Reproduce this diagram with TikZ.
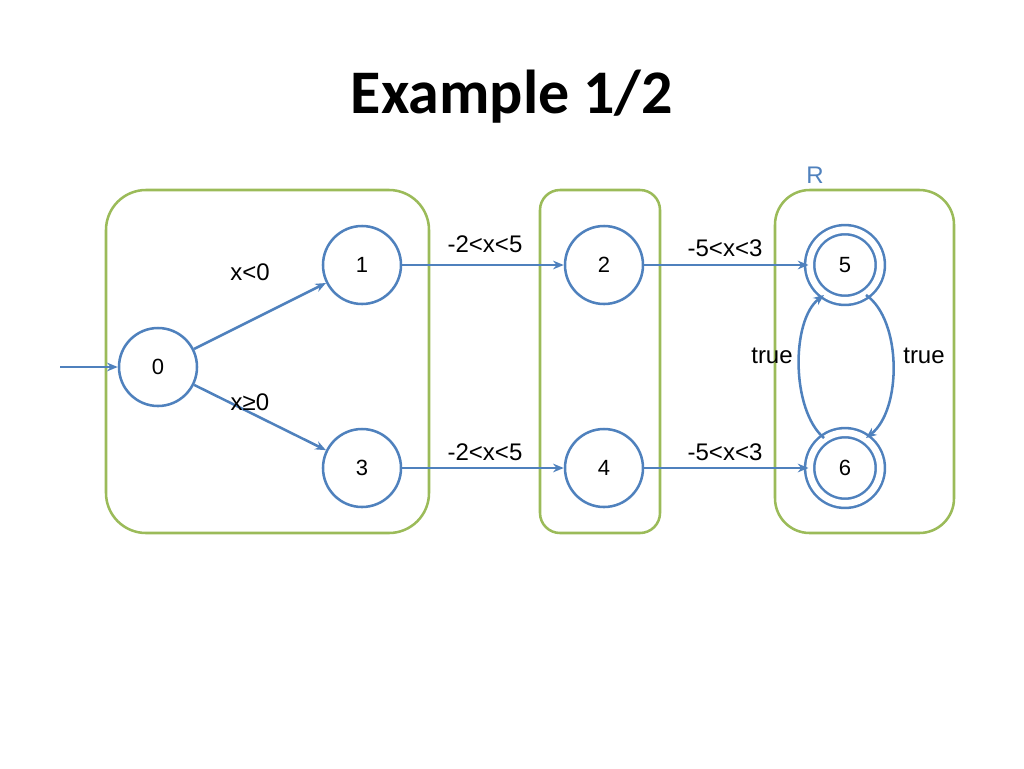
\documentclass[tikz,border=0pt]{standalone}
\usepackage{fontspec}
\setmainfont{Liberation Sans}
\newfontfamily\titlefont{Carlito}
\usetikzlibrary{arrows.meta}
\definecolor{sblue}{HTML}{4F81BD}
\definecolor{sgreen}{HTML}{9BBB59}
\begin{document}
\begin{tikzpicture}[x=0.75pt,y=-0.75pt,
  state/.style={circle,draw=sblue,line width=1.9pt,minimum size=58.5pt,inner sep=0pt,font=\fontsize{16.5}{18}\selectfont},
  acc/.style={state,double=white,double distance=5pt,minimum size=53pt},
  grp/.style={draw=sgreen,line width=1.9pt},
  arr/.style={draw=sblue,line width=1.9pt,-{Stealth[length=8pt,width=6.5pt]}},
  lbl/.style={font=\fontsize{18}{20}\selectfont,inner sep=0pt}]
\useasboundingbox (0,0) rectangle (1024,768);
% groups
\draw[grp,rounded corners=30pt] (106,190) rectangle (429,533);
\draw[grp,rounded corners=15pt] (540,190) rectangle (660,533);
\draw[grp,rounded corners=26pt] (775,190) rectangle (954,533);
% title
\node[font=\titlefont\bfseries\fontsize{46.5}{50}\selectfont] (title) at (512,97) {Example 1/2};
\node[lbl,text=sblue] (R) at (815,175) {R};
% states
\node[state] (n0) at (158,367) {0};
\node[state] (n1) at (362,265) {1};
\node[state] (n3) at (362,468) {3};
\node[state] (n2) at (604,265) {2};
\node[state] (n4) at (604,468) {4};
\node[acc] (n5) at (845,265) {5};
\node[acc] (n6) at (845,468) {6};
\coordinate (start) at (60,367);
% edges
\draw[arr] (start) -- (n0);
\draw[arr] (n0) -- (n1);
\draw[arr] (n0) -- (n3);
\draw[arr] (n1) -- (n2);
\draw[arr] (n3) -- (n4);
\draw[arr] (n2) -- (n5);
\draw[arr] (n4) -- (n6);
\draw[arr] (n6.125) .. controls (791,410) and (791,320) .. (n5.235);
\draw[arr] (n5.-55) .. controls (902,320) and (902,410) .. (n6.55);
% labels
\node[lbl] (l01) at (250,272) {x<0};
\node[lbl] (l03) at (250,402) {x≥0};
\node[lbl] (l12) at (485,244) {-2<x<5};
\node[lbl] (l34) at (485,452) {-2<x<5};
\node[lbl] (l25) at (725,248) {-5<x<3};
\node[lbl] (l46) at (725,452) {-5<x<3};
\node[lbl] (l65) at (772,356) {true};
\node[lbl] (l56) at (924,356) {true};
\end{tikzpicture}
\end{document}
